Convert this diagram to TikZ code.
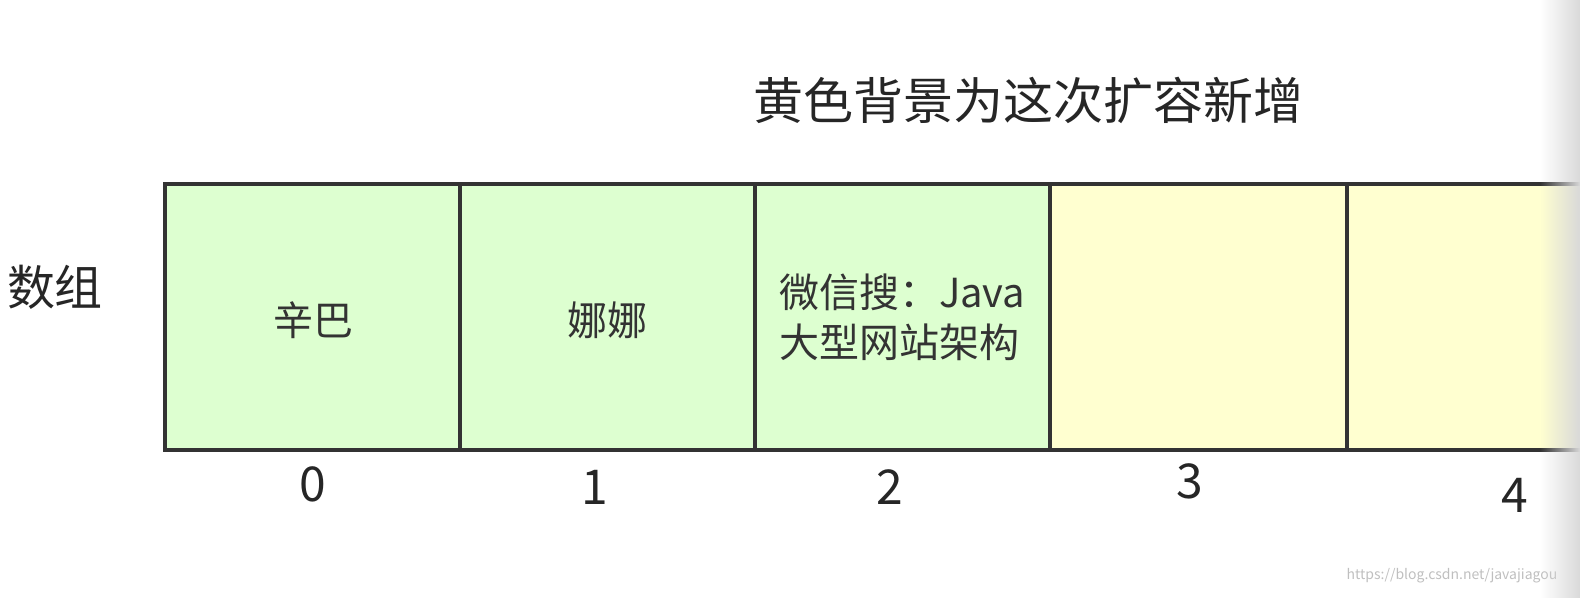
\documentclass[tikz,border=0pt]{standalone}
\usepackage{fontspec}
\setmainfont{Noto Sans CJK SC}
\usetikzlibrary{fadings}
\begin{document}
\begin{tikzpicture}[x=0.5pt,y=-0.5pt,
  cell/.style={draw=black!80,line width=2pt},
  green/.style={fill={rgb,255:red,221;green,255;blue,208}},
  yellow/.style={fill={rgb,255:red,255;green,255;blue,208}},
  lbl/.style={font=\fontsize{20}{25}\selectfont,text=black!80},
  num/.style={font=\fontsize{24}{28}\selectfont,text=black!85}]
\path[green] (165,184) rectangle (1050,450);
\path[yellow] (1050,184) rectangle (1580,450);
\draw[cell] (1580,184) -- (165,184) -- (165,450) -- (1580,450);
\foreach \x in {460,755,1050,1347} \draw[cell] (\x,184) -- (\x,450);
\node[lbl] (c0) at (313,320) {辛巴};
\node[lbl] (c1) at (607,320) {娜娜};
\node[lbl,align=left,anchor=west] (c2) at (772,317) {微信搜：Java\\大型网站架构};
\node[num] (n0) at (313,484) {0};
\node[num] (n1) at (595,487) {1};
\node[num] (n2) at (890,487) {2};
\node[num] (n3) at (1190,481) {3};
\node[num] (n4) at (1515,495) {4};
\node[font=\fontsize{24}{28}\selectfont,text=black!85] (arr) at (55,287) {数组};
\node[font=\fontsize{25}{30}\selectfont,text=black!85] (title) at (1028,100) {黄色背景为这次扩容新增};
\node[font=\fontsize{7}{8}\selectfont,text=black!25] (wm) at (1452,576) {https://blog.csdn.net/javajiagou};
\begin{scope}
\clip (1540,0) rectangle (1580,598);
\fill[black!15,path fading=west] (1540,0) rectangle (1580,598);
\end{scope}
\pgfresetboundingbox
\useasboundingbox (0,0) rectangle (1580,598);
\end{tikzpicture}
\end{document}
